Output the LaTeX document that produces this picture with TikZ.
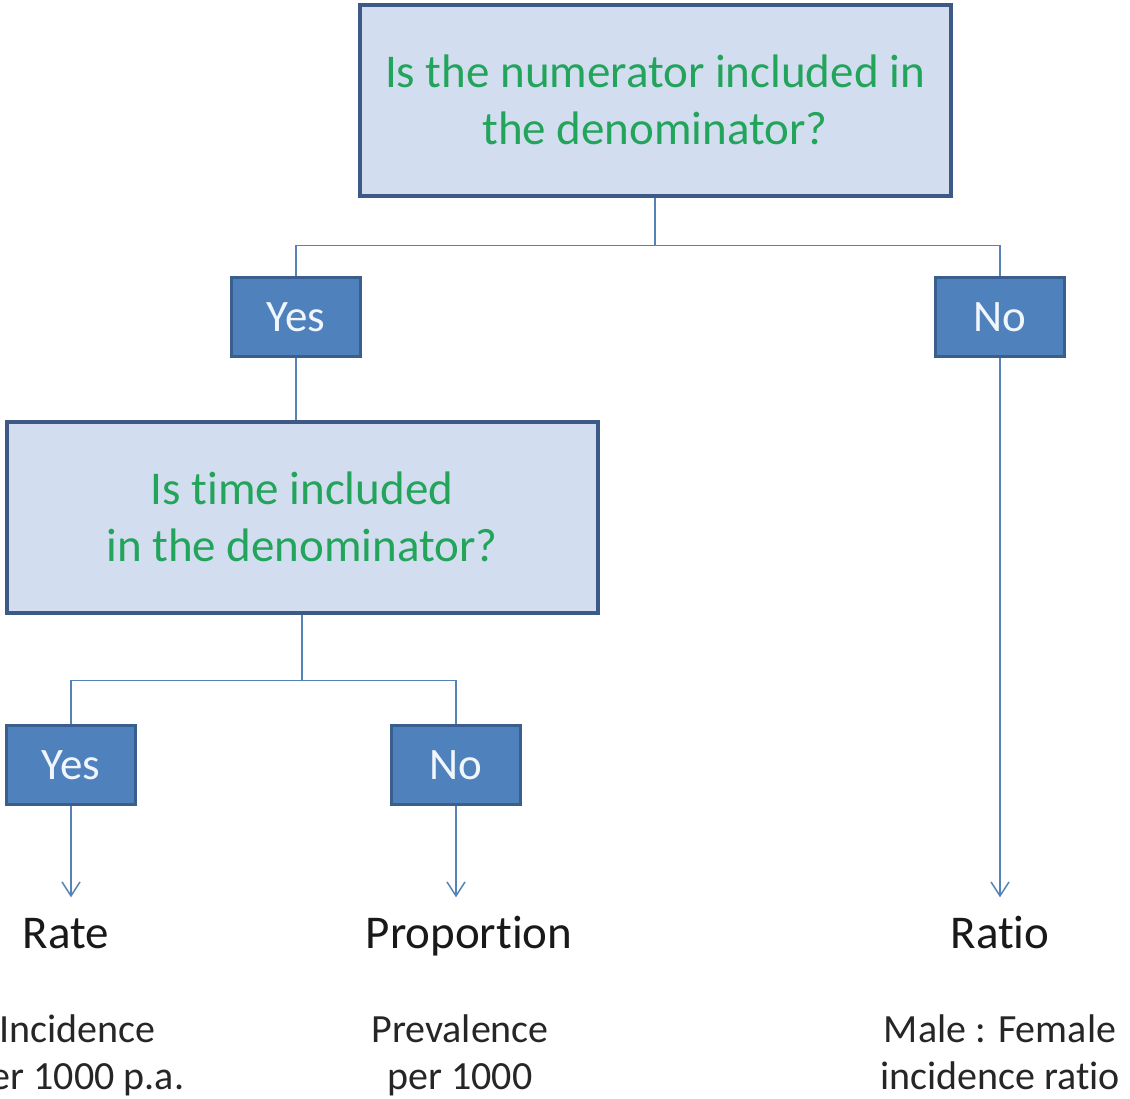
\documentclass[tikz,border=0pt]{standalone}
\usepackage{fontspec}
\setmainfont{Carlito}[Ligatures=NoCommon]
\usetikzlibrary{arrows.meta,calc}
\definecolor{QuestFill}{HTML}{D2DDEF}
\definecolor{QuestLine}{HTML}{3D5A87}
\definecolor{QuestText}{HTML}{22A45B}
\definecolor{AnsFill}{HTML}{4F81BD}
\definecolor{AnsLine}{HTML}{3A5F8E}
\definecolor{AnsText}{HTML}{F0F6FC}
\definecolor{ConnClr}{HTML}{5583B8}

\begin{document}
\begin{tikzpicture}[x=1pt,y=-1pt,
  quest/.style={draw=QuestLine,line width=4pt,fill=QuestFill,text=QuestText,
    minimum width=591pt,minimum height=191pt,align=center,
    font=\fontsize{47}{57}\selectfont},
  answer/.style={draw=AnsLine,line width=3pt,fill=AnsFill,text=AnsText,
    minimum width=129pt,minimum height=79pt,font=\fontsize{45}{54}\selectfont},
  result/.style={text=black!90,font=\fontsize{47}{56}\selectfont,
    text height=33pt,text depth=0pt,inner ysep=18pt},
  example/.style={align=center,text=black!85,font=\fontsize{40}{47}\selectfont,
    execute at begin node=\strut,execute at end node=\strut},
  conn/.style={draw=ConnClr,line width=1.5pt},
  arr/.style={conn,-{Straight Barb[length=14pt,width=18pt]}}]
\useasboundingbox[fill=white] (0,0) rectangle (1130,1098);
\clip (0,0) rectangle (1130,1098);

% questions
\node[quest] (q1) at (655,100) {Is the numerator included in\\the denominator?};
\node[quest] (q2) at (302,517) {Is time included\\in the denominator?};

% answers
\node[answer] (yes1) at (296,317) {Yes};
\node[answer] (no1) at (1000,317) {No};
\node[answer] (yes2) at (71,765) {Yes};
\node[answer] (no2) at (456,765) {No};

% results
\node[result] (rate) at (66,932) {Rate};
\node[result] (prop) at (469,932) {Proportion};
\node[result] (ratio) at (1000,932) {Ratio};

\node[example] (exrate) at (77,1059) {Incidence\\per 1000 p.a.};
\node[example] (exprop) at (460,1059) {Prevalence\\per 1000};
\node[example] (exratio) at (1000,1059) {Male : Female\\incidence ratio};

% connectors
\coordinate (j1) at ($(q1.south)+(0,48)$);
\coordinate (j2) at ($(q2.south)+(0,66)$);
\draw[conn] (q1.south) -- (j1) -| (yes1);
\draw[conn] (j1) -| (no1);
\draw[conn] (yes1.south) -- (yes1.south |- q2.north);
\draw[conn] (q2.south) -- (j2) -| (yes2);
\draw[conn] (j2) -| (no2);

\draw[arr] (yes2.south) -- (yes2.south |- rate.north);
\draw[arr] (no2.south) -- (no2.south |- prop.north);
\draw[arr] (no1.south) -- (no1.south |- ratio.north);

\end{tikzpicture}
\end{document}
